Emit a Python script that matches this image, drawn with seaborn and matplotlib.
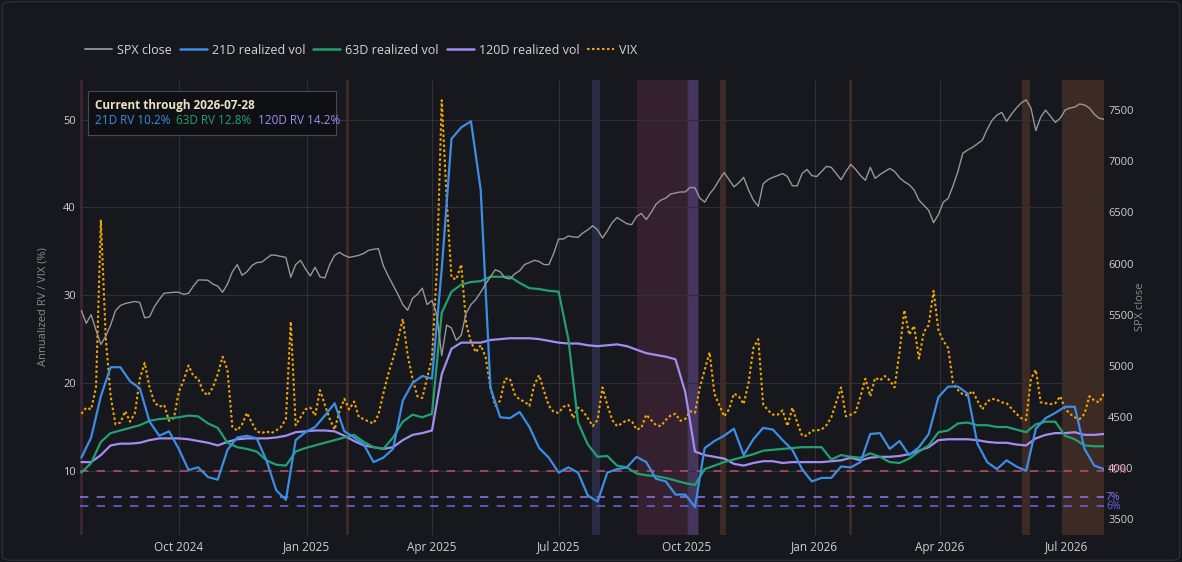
import pandas as pd
import matplotlib
matplotlib.use("Agg")
import matplotlib.pyplot as plt
import matplotlib.dates as mdates
import matplotlib.transforms as mtransforms
from matplotlib.lines import Line2D
from matplotlib.patches import Rectangle, FancyBboxPatch
import seaborn as sns

# realized vol read weekly, SPX and VIX read twice a week (2024-07-23 .. 2026-07-28)
weeks = pd.date_range("2024-07-23", "2026-07-28", freq="7D")
half_weeks = pd.date_range("2024-07-23", periods=211, freq="84h")

spx = [
    5540, 5417, 5500, 5350, 5210, 5290, 5400, 5540, 5590, 5610,
    5620, 5630, 5620, 5470, 5480, 5580, 5650, 5710, 5715, 5720,
    5720, 5700, 5710, 5780, 5840, 5840, 5837, 5800, 5780, 5720,
    5800, 5920, 5990, 5886, 5920, 5980, 6010, 6013, 6050, 6085,
    6080, 6070, 6060, 5866, 5990, 6032, 5950, 5880, 5964, 5870,
    5860, 5990, 6080, 6110, 6080, 6061, 6070, 6081, 6100, 6130,
    6140, 6145, 5980, 5880, 5790, 5700, 5600, 5544, 5660, 5700,
    5760, 5600, 5640, 5500, 5100, 5400, 5370, 5250, 5300, 5514,
    5600, 5650, 5720, 5800, 5870, 5940, 5920, 5860, 5850, 5900,
    5930, 5990, 6010, 6032, 6020, 5990, 5990, 6100, 6240, 6240,
    6270, 6260, 6257, 6300, 6330, 6370, 6330, 6250, 6320, 6400,
    6450, 6420, 6390, 6380, 6460, 6490, 6430, 6500, 6580, 6620,
    6640, 6680, 6690, 6700, 6700, 6745, 6740, 6640, 6600, 6680,
    6740, 6820, 6890, 6820, 6750, 6790, 6843, 6720, 6620, 6560,
    6780, 6820, 6843, 6860, 6880, 6850, 6760, 6760, 6880, 6920,
    6860, 6850, 6900, 6950, 6940, 6880, 6820, 6900, 6970, 6920,
    6860, 6814, 6941, 6833, 6870, 6900, 6930, 6900, 6840, 6800,
    6770, 6720, 6620, 6570, 6520, 6400, 6480, 6600, 6638, 6760,
    6900, 7078, 7110, 7136, 7170, 7205, 7310, 7400, 7450, 7478,
    7390, 7460, 7520, 7570, 7600, 7520, 7300, 7430, 7500, 7440,
    7380, 7420, 7500, 7520, 7530, 7560, 7550, 7520, 7460, 7420,
    7410]

vix = [
    16.5, 17.2, 17.0, 19.5, 38.5, 25.2, 18.5, 15.3, 15.5, 16.8,
    15.6, 16.6, 20.5, 22.3, 19.5, 17.8, 17.3, 17.5, 15.7, 16.0,
    19.0, 20.3, 22.0, 20.8, 20.5, 19.0, 18.6, 19.5, 21.0, 23.0,
    21.5, 15.0, 14.6, 15.3, 16.6, 15.5, 14.5, 14.3, 14.5, 14.3,
    14.6, 15.0, 15.9, 27.0, 15.2, 16.1, 17.0, 17.2, 16.3, 19.2,
    17.5, 15.9, 14.7, 16.8, 18.2, 17.0, 17.9, 16.1, 15.9, 15.6,
    15.4, 16.4, 18.8, 21.0, 22.8, 24.9, 27.3, 23.2, 20.5, 18.5,
    18.3, 20.6, 22.8, 33.0, 52.2, 41.0, 32.0, 31.8, 33.5, 26.8,
    24.7, 23.5, 24.3, 23.0, 19.5, 17.4, 18.0, 20.5, 20.5, 18.7,
    18.1, 17.9, 17.4, 19.8, 20.9, 19.1, 17.4, 16.7, 16.6, 17.3,
    17.5, 16.0, 17.2, 16.8, 16.0, 15.1, 15.8, 19.5, 17.5, 15.8,
    15.1, 15.4, 15.8, 15.7, 14.7, 14.9, 16.4, 15.8, 15.2, 15.1,
    15.8, 16.3, 16.5, 15.7, 15.9, 16.8, 16.6, 19.5, 21.5, 23.5,
    18.8, 17.5, 16.2, 17.0, 18.8, 18.5, 17.6, 20.0, 24.0, 25.0,
    17.6, 16.9, 16.4, 16.4, 16.9, 15.1, 17.2, 15.5, 14.0, 14.0,
    14.6, 14.6, 14.7, 15.2, 16.1, 17.8, 19.5, 16.2, 16.4, 16.7,
    18.5, 20.5, 18.5, 20.6, 20.3, 20.8, 20.3, 19.5, 23.5, 28.3,
    25.5, 26.5, 22.8, 25.8, 26.6, 30.5, 26.0, 24.8, 24.0, 20.0,
    19.2, 18.7, 18.6, 19.1, 18.0, 17.0, 17.9, 18.2, 18.1, 17.8,
    17.7, 17.1, 16.5, 16.0, 15.8, 20.5, 21.5, 17.8, 17.7, 17.6,
    17.7, 18.5, 17.1, 16.5, 16.1, 15.9, 16.5, 18.5, 18.0, 17.8,
    18.8]

rv21 = [
    11.5, 13.8, 18.5, 21.8, 21.8, 20.2, 19.4, 15.6, 14.0, 14.5,
    12.5, 10.1, 10.4, 9.3, 9.0, 12.4, 13.8, 14.0, 13.7, 11.2,
    7.8, 6.7, 13.5, 14.4, 15.0, 16.3, 17.7, 14.5, 13.8, 13.0,
    11.0, 11.5, 12.5, 18.0, 20.0, 20.8, 20.5, 33.0, 47.8, 49.1,
    49.8, 42.0, 19.5, 16.1, 16.0, 16.7, 15.0, 12.6, 11.5, 9.8,
    10.4, 9.8, 7.2, 6.5, 9.8, 10.2, 10.4, 11.6, 11.0, 9.1,
    8.8, 7.3, 7.3, 5.9, 12.6, 13.4, 14.0, 14.8, 11.8, 13.6,
    14.9, 14.7, 13.5, 12.4, 10.2, 8.8, 9.2, 9.2, 10.5, 10.4,
    11.0, 14.2, 14.3, 12.5, 13.4, 11.8, 12.7, 14.2, 18.4, 19.6,
    19.6, 18.8, 13.1, 11.0, 10.2, 11.2, 10.5, 10.0, 14.8, 16.0,
    16.6, 17.3, 17.3, 12.5, 10.6, 10.2]

rv63 = [
    9.8, 10.9, 13.3, 14.3, 14.6, 14.9, 15.2, 15.7, 15.9, 16.0,
    16.1, 16.3, 16.2, 15.4, 14.9, 13.2, 12.7, 12.5, 12.2, 11.2,
    10.7, 10.6, 12.2, 12.6, 12.9, 13.2, 13.5, 13.8, 14.1, 13.3,
    12.7, 12.5, 13.8, 15.6, 16.4, 16.1, 16.5, 28.0, 30.4, 31.2,
    31.5, 31.6, 32.1, 32.1, 32.1, 31.4, 30.8, 30.7, 30.5, 30.4,
    25.0, 15.5, 13.0, 11.6, 11.7, 10.6, 10.4, 9.7, 9.5, 9.4,
    9.2, 8.9, 8.6, 8.4, 10.2, 10.6, 11.0, 11.3, 11.6, 11.9,
    12.3, 12.4, 12.5, 12.6, 12.7, 12.7, 12.7, 11.3, 11.8, 11.6,
    11.5, 12.0, 11.6, 11.0, 10.9, 11.4, 12.2, 12.9, 14.4, 14.6,
    15.4, 15.5, 15.2, 15.2, 15.0, 15.0, 14.7, 14.4, 15.3, 15.6,
    15.6, 14.0, 13.6, 12.9, 12.8, 12.8]

rv120 = [
    11.0, 11.0, 11.8, 12.9, 13.1, 13.1, 13.2, 13.5, 13.7, 13.7,
    13.7, 13.6, 13.4, 13.2, 12.9, 13.3, 13.6, 13.7, 13.7, 13.7,
    13.8, 14.0, 14.4, 14.5, 14.6, 14.6, 14.5, 14.0, 13.4, 12.9,
    12.7, 12.5, 12.7, 13.5, 14.1, 14.3, 14.6, 21.0, 23.9, 24.6,
    24.6, 24.6, 24.9, 25.0, 25.1, 25.1, 25.1, 25.0, 24.8, 24.6,
    24.5, 24.5, 24.3, 24.2, 24.3, 24.4, 24.2, 23.8, 23.4, 23.2,
    23.0, 22.7, 19.0, 12.2, 11.8, 11.6, 11.4, 10.8, 10.6, 10.9,
    11.1, 11.1, 10.9, 11.0, 11.0, 11.0, 11.0, 11.1, 11.2, 11.5,
    11.2, 11.5, 11.6, 11.6, 11.7, 11.9, 12.3, 12.7, 13.5, 13.6,
    13.6, 13.6, 13.5, 13.3, 13.2, 13.2, 13.0, 12.9, 13.7, 14.1,
    14.3, 14.3, 14.4, 14.1, 14.1, 14.2]

# shaded regime windows
band_start = ["2024-07-21", "2025-01-29", "2025-07-25", "2025-08-26", "2025-10-01",
              "2025-10-25", "2026-01-26", "2026-05-30", "2026-06-28"]
band_end = ["2024-07-24", "2025-01-31", "2025-07-31", "2025-10-10", "2025-10-09",
            "2025-10-29", "2026-01-28", "2026-06-05", "2026-07-28"]
band_color = ["#3a2434", "#3d2a24", "#282b42", "#34202e", "#45355f",
              "#3d2a24", "#3d2a24", "#3d2a24", "#3d2a24"]

thresholds = [10, 7, 6]
threshold_colors = ["#b84a66", "#8a70d8", "#6a5ed2"]
threshold_text = ["#d64e70", "#8c72f2", "#6a5cf5"]

BG = "#16181d"
C_SPX = "#979797"
C_21 = "#3b8de6"
C_63 = "#22a06f"
C_120 = "#a38df0"
C_VIX = "#f0a500"

rv = pd.DataFrame({"date": weeks, "rv21": rv21, "rv63": rv63, "rv120": rv120})
mkt = pd.DataFrame({"date": half_weeks, "spx": spx, "vix": vix})

sns.set_theme(style="dark")
plt.rcParams["font.family"] = ["Open Sans", "DejaVu Sans"]

fig = plt.figure(figsize=(11.82, 5.62), dpi=100, facecolor=BG)
ax = fig.add_axes([80 / 1182, 1 - 535 / 562, 1024 / 1182, 455 / 562])
ax.set_facecolor(BG)
ax2 = ax.twinx()
ax2.patch.set_visible(False)

for s, e, c in zip(band_start, band_end, band_color):
    ax.axvspan(pd.Timestamp(s), pd.Timestamp(e), color=c, lw=0, zorder=0.2)

for v, c in zip(thresholds, threshold_colors):
    ax.axhline(v, color=c, ls=(0, (5, 5)), lw=1.2, zorder=1)

sns.lineplot(data=mkt, x="date", y="vix", ax=ax, color=C_VIX, lw=1.5,
             ls=(0, (1.2, 1.2)), zorder=2)
sns.lineplot(data=rv, x="date", y="rv120", ax=ax, color=C_120, lw=1.6, zorder=3)
sns.lineplot(data=rv, x="date", y="rv63", ax=ax, color=C_63, lw=1.6, zorder=3)
sns.lineplot(data=rv, x="date", y="rv21", ax=ax, color=C_21, lw=1.6, zorder=4)
sns.lineplot(data=mkt, x="date", y="spx", ax=ax2, color=C_SPX, lw=1.0, zorder=2)

ax.set_xlim(pd.Timestamp("2024-07-22"), pd.Timestamp("2026-07-28"))
ax.set_ylim(2.7, 54.5)
ax2.set_ylim(3348, 7794)
ax.set_yticks([10, 20, 30, 40, 50])
ax2.set_yticks(range(3500, 7501, 500))
ax.xaxis.set_major_locator(mdates.MonthLocator(bymonth=[1, 4, 7, 10]))
ax.xaxis.set_major_formatter(mdates.DateFormatter("%b %Y"))

ax.grid(True, color="#2e3037", lw=0.8)
ax2.grid(False)
for a in (ax, ax2):
    a.set_xlabel("")
    a.set_ylabel("")
    for sp in a.spines.values():
        sp.set_visible(False)
ax.tick_params(axis="x", length=0, colors="#cfcfcf", labelsize=8.5, pad=4)
ax.tick_params(axis="y", length=0, colors="#cfcfcf", labelsize=8, pad=3)
ax2.tick_params(axis="y", length=0, colors="#cfcfcf", labelsize=8, pad=3)

# threshold labels at the right edge
tr = mtransforms.blended_transform_factory(ax.transAxes, ax.transData)
for v, c, lab in zip(thresholds, threshold_text, ["10%", "7%", "6%"]):
    ax.text(1.002, v, lab, transform=tr, color=c, fontsize=7.5, va="center", ha="left", zorder=6)

fig.text(42.7 / 1182, 1 - 307 / 562, "Annualized RV / VIX (%)", rotation=90,
         ha="center", va="center", color="#8a8a8a", fontsize=8)
fig.text(1140.7 / 1182, 1 - 307 / 562, "SPX close", rotation=90,
         ha="center", va="center", color="#8a8a8a", fontsize=8)

# current-value box
ax2.add_patch(Rectangle((0.0078, 0.879), 0.2422, 0.097, transform=ax2.transAxes,
                        facecolor="#0f1014", edgecolor="#4a4b50", lw=0.8, zorder=10))
ax2.text(0.0147, 0.944, "Current through 2026-07-28", transform=ax2.transAxes,
         color="#eee2c6", fontsize=8.5, fontweight="bold", va="center", zorder=11)
for xpos, txt, c in zip([0.0147, 0.094, 0.174],
                        ["21D RV 10.2%", "63D RV 12.8%", "120D RV 14.2%"],
                        [C_21, C_63, C_120]):
    ax2.text(xpos, 0.9105, txt, transform=ax2.transAxes, color=c, fontsize=8.5,
             va="center", zorder=11)

handles = [Line2D([], [], color=C_SPX, lw=1.3),
           Line2D([], [], color=C_21, lw=1.8),
           Line2D([], [], color=C_63, lw=1.8),
           Line2D([], [], color=C_120, lw=1.8),
           Line2D([], [], color=C_VIX, lw=1.5, ls=(0, (1.2, 1.2)))]
labels = ["SPX close", "21D realized vol", "63D realized vol", "120D realized vol", "VIX"]
leg = fig.legend(handles, labels, loc="center left", bbox_to_anchor=(85 / 1182, 1 - 50 / 562),
                 ncol=5, frameon=False, fontsize=9, handlelength=2.15, handletextpad=0.4,
                 columnspacing=0.65, borderpad=0, borderaxespad=0)
for t in leg.get_texts():
    t.set_color("#d6d6d6")

fig.patches.append(FancyBboxPatch((0.002, 0.003), 0.996, 0.994, transform=fig.transFigure,
                                  boxstyle="round,pad=0,rounding_size=0.008",
                                  facecolor="none", edgecolor="#2c2e34", lw=1.0))

fig.savefig("out.png", dpi=100, facecolor=BG)
